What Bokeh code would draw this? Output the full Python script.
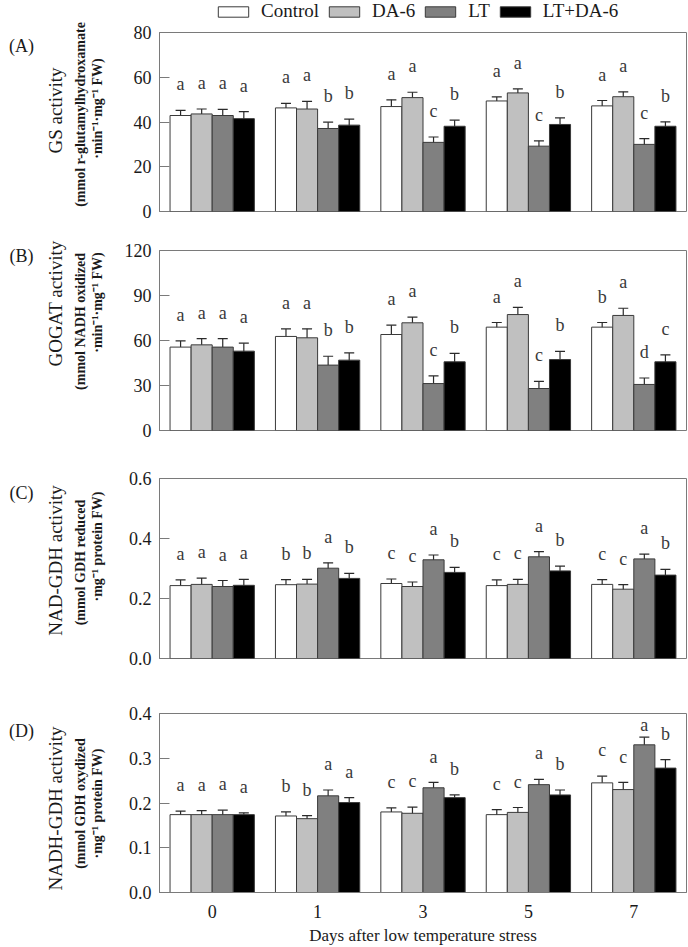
import math
from bokeh.plotting import figure
from bokeh.models import (Range1d, FixedTicker, Whisker, TeeHead, ColumnDataSource,
                          Label, Legend, LegendItem, NumeralTickFormatter)
from bokeh.layouts import column, row
from bokeh.embed import file_html
from bokeh.resources import INLINE
from bokeh.core.properties import value

# ---------------- data ----------------
days = ["0", "1", "3", "5", "7"]
treatments = ["Control", "DA-6", "LT", "LT+DA-6"]
bar_colors = ["#ffffff", "#c0c0c0", "#808080", "#000000"]

# (A) GS activity
gs_control = [42.9, 46.3, 46.9, 49.4, 47.2]
gs_control_err = [2.3, 2.0, 3.0, 1.8, 2.4]
gs_da6 = [43.6, 45.8, 50.9, 53.0, 51.3]
gs_da6_err = [2.2, 3.4, 2.4, 1.8, 2.2]
gs_lt = [42.9, 37.1, 30.9, 29.2, 30.0]
gs_lt_err = [2.7, 2.8, 2.4, 2.4, 2.6]
gs_ltda6 = [41.5, 38.6, 38.1, 38.9, 38.1]
gs_ltda6_err = [3.1, 2.7, 2.7, 2.9, 2.0]
gs_control_sig = ["a", "a", "a", "a", "a"]
gs_da6_sig = ["a", "a", "a", "a", "a"]
gs_lt_sig = ["a", "b", "c", "c", "c"]
gs_ltda6_sig = ["a", "b", "b", "b", "b"]
gs_ticks = [0, 20, 40, 60, 80]

# (B) GOGAT activity
gogat_control = [55.6, 62.7, 64.0, 68.9, 68.9]
gogat_control_err = [4.1, 5.0, 6.2, 3.1, 3.1]
gogat_da6 = [57.1, 61.8, 71.8, 77.3, 76.7]
gogat_da6_err = [4.1, 6.0, 3.8, 4.8, 4.8]
gogat_lt = [55.6, 43.6, 31.3, 28.0, 30.7]
gogat_lt_err = [5.7, 5.9, 5.1, 4.7, 4.3]
gogat_ltda6 = [52.9, 46.9, 45.8, 47.3, 45.8]
gogat_ltda6_err = [5.3, 4.8, 5.6, 5.4, 4.6]
gogat_control_sig = ["a", "a", "a", "a", "b"]
gogat_da6_sig = ["a", "a", "a", "a", "a"]
gogat_lt_sig = ["a", "b", "c", "c", "d"]
gogat_ltda6_sig = ["a", "b", "b", "b", "c"]
gogat_ticks = [0, 30, 60, 90, 120]

# (C) NAD-GDH activity
nad_control = [0.243, 0.246, 0.250, 0.243, 0.247]
nad_control_err = [0.019, 0.017, 0.015, 0.019, 0.016]
nad_da6 = [0.247, 0.248, 0.240, 0.247, 0.231]
nad_da6_err = [0.021, 0.016, 0.015, 0.017, 0.015]
nad_lt = [0.240, 0.301, 0.329, 0.339, 0.332]
nad_lt_err = [0.020, 0.018, 0.016, 0.017, 0.016]
nad_ltda6 = [0.244, 0.267, 0.287, 0.292, 0.278]
nad_ltda6_err = [0.020, 0.017, 0.017, 0.016, 0.019]
nad_control_sig = ["a", "b", "c", "c", "c"]
nad_da6_sig = ["a", "b", "c", "c", "c"]
nad_lt_sig = ["a", "a", "a", "a", "a"]
nad_ltda6_sig = ["a", "b", "b", "b", "b"]
nad_ticks = [0.0, 0.2, 0.4, 0.6]

# (D) NADH-GDH activity
nadh_control = [0.174, 0.171, 0.180, 0.174, 0.245]
nadh_control_err = [0.008, 0.009, 0.009, 0.011, 0.015]
nadh_da6 = [0.174, 0.165, 0.177, 0.179, 0.230]
nadh_da6_err = [0.009, 0.007, 0.014, 0.011, 0.016]
nadh_lt = [0.174, 0.216, 0.234, 0.241, 0.330]
nadh_lt_err = [0.010, 0.013, 0.012, 0.012, 0.017]
nadh_ltda6 = [0.174, 0.201, 0.212, 0.218, 0.278]
nadh_ltda6_err = [0.004, 0.011, 0.006, 0.011, 0.019]
nadh_control_sig = ["a", "b", "c", "c", "c"]
nadh_da6_sig = ["a", "b", "c", "c", "c"]
nadh_lt_sig = ["a", "a", "a", "a", "a"]
nadh_ltda6_sig = ["a", "a", "b", "b", "b"]
nadh_ticks = [0.0, 0.1, 0.2, 0.3, 0.4]

x_title = "Days after low temperature stress"

# ---------------- styling / layout ----------------
FONT = "Liberation Serif"
GRAY = "#7a7a7a"
TXT = "#1a1a1a"
PAGE_W = 688
PAGE_H = 947
LABEL_W = 115             # width of the left strip holding the y titles
FRAME_LEFT = 159          # page x of plot frame left
FRAME_W = 527
FRAME_H = 180
MAIN_W = PAGE_W - LABEL_W
LEGEND_H = 22
LEGEND_X = 55             # legend offset inside the legend strip
offsets = [-0.3, -0.1, 0.1, 0.3]

panels = [
    dict(tag="(A)", title="GS activity",
         sub1="(mmol r-glutamylhydroxamate", sub2="\u00b7min\u207b\u00b9\u00b7mg\u207b\u00b9 FW)",
         means=[gs_control, gs_da6, gs_lt, gs_ltda6],
         errs=[gs_control_err, gs_da6_err, gs_lt_err, gs_ltda6_err],
         sigs=[gs_control_sig, gs_da6_sig, gs_lt_sig, gs_ltda6_sig],
         ticks=gs_ticks, fmt=None, fh=179,
         top=10, bottom=21, ypos=(45, 110, 114, 108)),
    dict(tag="(B)", title="GOGAT activity",
         sub1="(mmol NADH oxidized", sub2="\u00b7min\u207b\u00b9\u00b7mg\u207b\u00b9 FW)",
         means=[gogat_control, gogat_da6, gogat_lt, gogat_ltda6],
         errs=[gogat_control_err, gogat_da6_err, gogat_lt_err, gogat_ltda6_err],
         sigs=[gogat_control_sig, gogat_da6_sig, gogat_lt_sig, gogat_ltda6_sig],
         ticks=gogat_ticks, fmt=None, fh=FRAME_H,
         top=18, bottom=25, ypos=(255, 303, 321, 302)),
    dict(tag="(C)", title="NAD-GDH activity",
         sub1="(mmol GDH reduced", sub2="\u00b7mg\u207b\u00b9 protein FW)",
         means=[nad_control, nad_da6, nad_lt, nad_ltda6],
         errs=[nad_control_err, nad_da6_err, nad_lt_err, nad_ltda6_err],
         sigs=[nad_control_sig, nad_da6_sig, nad_lt_sig, nad_ltda6_sig],
         ticks=nad_ticks, fmt="0.0", fh=FRAME_H,
         top=23, bottom=32, ypos=(492, 560, 562, 546)),
    dict(tag="(D)", title="NADH-GDH activity",
         sub1="(mmol GDH oxydized", sub2="\u00b7mg\u207b\u00b9 protein FW)",
         means=[nadh_control, nadh_da6, nadh_lt, nadh_ltda6],
         errs=[nadh_control_err, nadh_da6_err, nadh_lt_err, nadh_ltda6_err],
         sigs=[nadh_control_sig, nadh_da6_sig, nadh_lt_sig, nadh_ltda6_sig],
         ticks=nadh_ticks, fmt="0.0", fh=FRAME_H,
         top=23, bottom=54, ypos=(730, 808, 803, 803)),
]

label_x = (21, 55, 80, 97)   # page x centres of tag, title, sub1, sub2


def bare_figure(w, h, xr, yr):
    f = figure(width=w, height=h, x_range=Range1d(*xr), y_range=Range1d(*yr),
               x_axis_type=None, y_axis_type=None,
               output_backend="svg", toolbar_location=None,
               min_border_left=0, min_border_right=0, min_border_top=0, min_border_bottom=0)
    f.grid.visible = False
    f.outline_line_color = None
    f.background_fill_color = "white"
    f.border_fill_color = "white"
    return f


# ---- left strip with panel tags and y titles (coordinates = page pixels, y up) ----
lf = bare_figure(LABEL_W, PAGE_H, (0, LABEL_W), (0, PAGE_H))
sizes = ["18px", "19px", "14px", "14px"]
styles = ["normal", "normal", "bold", "bold"]
angles = [0, math.pi / 2, math.pi / 2, math.pi / 2]
for pan in panels:
    texts = [pan["tag"], pan["title"], pan["sub1"], pan["sub2"]]
    for txt, px, py, sz, st, ang in zip(texts, label_x, pan["ypos"], sizes, styles, angles):
        lf.add_layout(Label(x=px, y=PAGE_H - py, x_units="data", y_units="data",
                            text=txt, angle=ang, text_align="center", text_baseline="middle",
                            text_font=FONT, text_font_size=sz, text_font_style=st,
                            text_color=TXT))

# ---- legend strip ----
leg_fig = bare_figure(MAIN_W, LEGEND_H, (0, 1), (0, 1))
leg_renderers = []
for c, m in zip(bar_colors, [gs_control, gs_da6, gs_lt, gs_ltda6]):
    r = leg_fig.vbar(x=[0], top=[m[0]], width=0.2, fill_color=c,
                     line_color="#3a3a3a", line_width=1)
    r.visible = False
    leg_renderers.append(r)
legend = Legend(items=[LegendItem(label=t, renderers=[r]) for t, r in zip(treatments, leg_renderers)],
                orientation="horizontal", location=(LEGEND_X, 0),
                border_line_color=None, background_fill_alpha=0,
                inactive_fill_alpha=0,
                padding=0, margin=0, spacing=6, label_standoff=9,
                glyph_width=38, glyph_height=13,
                label_text_font=FONT, label_text_font_size="19px",
                label_text_color=TXT)
leg_fig.add_layout(legend)

mains = [leg_fig]
for k, pan in enumerate(panels):
    ymax = pan["ticks"][-1]
    last = (k == len(panels) - 1)
    fh = pan["fh"]
    fig_h = pan["top"] + fh + pan["bottom"]
    xlo, xhi = -0.5, len(days) - 0.5
    p = figure(width=MAIN_W, height=fig_h,
               x_range=Range1d(xlo, xhi), y_range=Range1d(0, ymax),
               output_backend="svg", toolbar_location=None,
               min_border_left=FRAME_LEFT - LABEL_W, min_border_right=MAIN_W - (FRAME_LEFT - LABEL_W) - FRAME_W,
               min_border_top=pan["top"], min_border_bottom=pan["bottom"])
    p.xgrid.visible = False
    p.ygrid.visible = False
    p.outline_line_color = GRAY
    p.outline_line_width = 1
    p.background_fill_color = "white"
    p.border_fill_color = "white"

    gap = ymax * 26.0 / fh          # letter baseline above the error bar
    cap = ymax * (1 - 12.0 / fh)    # keep letters inside the frame
    for j, t in enumerate(treatments):
        xs = [i + offsets[j] for i in range(len(days))]
        m = pan["means"][j]
        e = pan["errs"][j]
        src = ColumnDataSource(dict(
            x=xs, top=m,
            upper=[a + b for a, b in zip(m, e)],
            lower=[a - b for a, b in zip(m, e)],
            ty=[min(a + b + gap, cap) for a, b in zip(m, e)],
            sig=pan["sigs"][j]))
        p.vbar(x="x", top="top", bottom=0, width=0.2, source=src,
               fill_color=bar_colors[j], line_color="#3a3a3a", line_width=1)
        w = Whisker(base="x", upper="upper", lower="lower", source=src,
                    dimension="height", line_color="#2a2a2a", line_width=1.2,
                    upper_head=TeeHead(size=10, line_color="#2a2a2a", line_width=1.2),
                    lower_head=TeeHead(size=10, line_color="#2a2a2a", line_width=1.2))
        p.add_layout(w)
        p.text(x="x", y="ty", text="sig", source=src, text_font=value(FONT),
               text_font_size="18px", text_align="center", text_baseline="alphabetic",
               text_color="#3a3a3a")

    # y axis
    ya = p.yaxis[0]
    ya.ticker = FixedTicker(ticks=pan["ticks"])
    if pan["fmt"]:
        ya.formatter = NumeralTickFormatter(format=pan["fmt"])
    ya.major_tick_in = 10
    ya.major_tick_out = 0
    ya.minor_tick_line_color = None
    ya.major_tick_line_color = GRAY
    ya.axis_line_color = GRAY
    ya.major_label_text_font = FONT
    ya.major_label_text_font_size = "18px"
    ya.major_label_text_color = TXT
    ya.major_label_standoff = 8

    # x axis
    xa = p.xaxis[0]
    xa.ticker = FixedTicker(ticks=list(range(len(days))))
    xa.major_label_overrides = {i: d for i, d in enumerate(days)}
    xa.major_tick_line_color = None
    xa.minor_tick_line_color = None
    xa.axis_line_color = GRAY
    xa.major_label_text_font = FONT
    xa.major_label_text_font_size = "18px"
    xa.major_label_text_color = TXT
    xa.major_label_standoff = 6
    if last:
        xa.axis_label = x_title
        xa.axis_label_text_font = FONT
        xa.axis_label_text_font_style = "normal"
        xa.axis_label_text_font_size = "17px"
        xa.axis_label_text_color = TXT
        xa.axis_label_standoff = 5
    else:
        xa.visible = False

    mains.append(p)

layout = row(lf, column(*mains, spacing=0), spacing=0)
open("out.html", "w").write(file_html(layout, INLINE))
